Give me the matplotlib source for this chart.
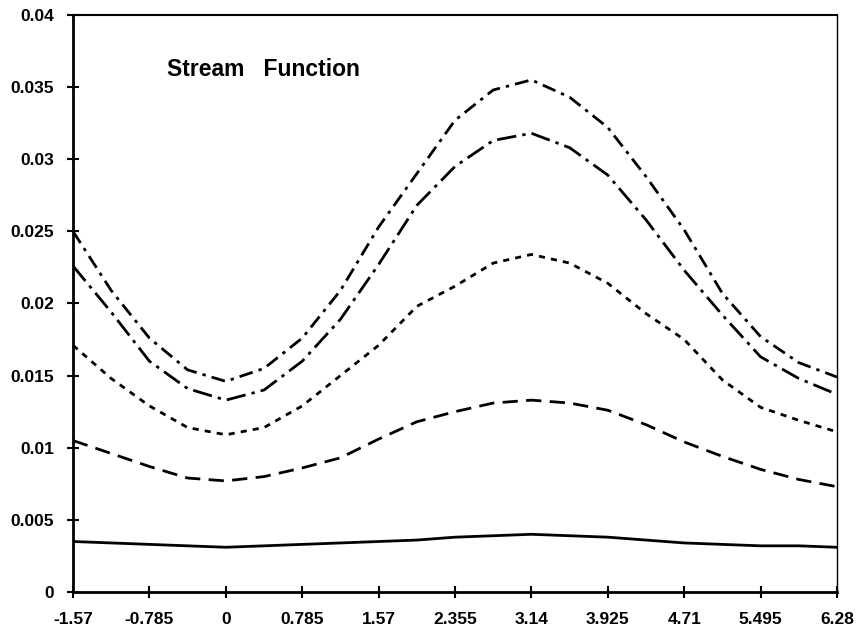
import matplotlib.pyplot as plt
import numpy as np

plt.rcParams['font.family'] = ['Liberation Sans', 'DejaVu Sans']
plt.rcParams['font.weight'] = 'bold'

# angle positions, half-step between the labelled ticks
theta = [-1.57, -1.1775, -0.785, -0.3925, 0.0, 0.3925, 0.785, 1.1775, 1.57,
         1.9625, 2.355, 2.7475, 3.14, 3.5325, 3.925, 4.3175, 4.71, 5.1025,
         5.495, 5.8875, 6.28]
tick_vals = [-1.57, -0.785, 0, 0.785, 1.57, 2.355, 3.14, 3.925, 4.71, 5.495, 6.28]
tick_labels = ['-1.57', '-0.785', '0', '0.785', '1.57', '2.355', '3.14',
               '3.925', '4.71', '5.495', '6.28']
ytick_vals = [0, 0.005, 0.01, 0.015, 0.02, 0.025, 0.03, 0.035, 0.04]
ytick_labels = ['0', '0.005', '0.01', '0.015', '0.02', '0.025', '0.03', '0.035', '0.04']

psi_a = [0.0250, 0.0209, 0.0176, 0.0154, 0.0146, 0.0155, 0.0176, 0.0209, 0.0253, 0.0290,
         0.0327, 0.0348, 0.0355, 0.0343, 0.0322, 0.0288, 0.0251, 0.0207, 0.0177, 0.0159, 0.0149]
psi_b = [0.0226, 0.0194, 0.0160, 0.0141, 0.0133, 0.0140, 0.0160, 0.0189, 0.0227, 0.0268,
         0.0295, 0.0313, 0.0318, 0.0308, 0.0289, 0.0258, 0.0223, 0.0192, 0.0163, 0.0148, 0.0137]
psi_c = [0.0171, 0.0148, 0.0129, 0.0114, 0.0109, 0.0114, 0.0129, 0.0150, 0.0171, 0.0198,
         0.0212, 0.0228, 0.0234, 0.0228, 0.0214, 0.0193, 0.0175, 0.0147, 0.0128, 0.0119, 0.0111]
psi_d = [0.0105, 0.0096, 0.0087, 0.0079, 0.0077, 0.0080, 0.0086, 0.0093, 0.0106, 0.0118,
         0.0125, 0.0131, 0.0133, 0.0131, 0.0126, 0.0116, 0.0104, 0.0094, 0.0085, 0.0078, 0.0073]
psi_e = [0.0035, 0.0034, 0.0033, 0.0032, 0.0031, 0.0032, 0.0033, 0.0034, 0.0035, 0.0036,
         0.0038, 0.0039, 0.0040, 0.0039, 0.0038, 0.0036, 0.0034, 0.0033, 0.0032, 0.0032, 0.0031]


def main():
    fig = plt.figure(figsize=(8.59, 6.32), dpi=100)
    ax = fig.add_axes([0.085, 0.0633, 0.8894, 0.913])

    lw = 2.0
    ax.plot(theta, psi_a, color='black', lw=lw, ls=(0, (5, 2.2, 1.2, 2.2)))
    ax.plot(theta, psi_b, color='black', lw=lw, ls=(0, (7, 2.2, 1.2, 2.2)))
    ax.plot(theta, psi_c, color='black', lw=lw, ls=(0, (2.2, 2.2)))
    ax.plot(theta, psi_d, color='black', lw=lw, ls=(0, (5.5, 3)))
    ax.plot(theta, psi_e, color='black', lw=lw, ls='-')

    ax.set_xlim(-1.57, 6.28)
    ax.set_ylim(0, 0.04)
    ax.set_xticks(tick_vals)
    ax.set_xticklabels(tick_labels)
    ax.set_yticks(ytick_vals)
    ax.set_yticklabels(ytick_labels)
    ax.tick_params(direction='inout', length=9, width=1.5, labelsize=12.5)
    ax.tick_params(axis='x', pad=10)
    ax.tick_params(axis='y', pad=9)

    ax.spines['left'].set_linewidth(2)
    ax.spines['bottom'].set_linewidth(2)
    ax.spines['top'].set_linewidth(1.5)
    ax.spines['right'].set_linewidth(1.0)

    ax.text(-0.604, 0.0362, 'Stream   Function', fontsize=16.5, fontweight='bold',
            va='center', ha='left')

    plt.savefig('out.png', dpi=100)


if __name__ == "__main__":
    main()
